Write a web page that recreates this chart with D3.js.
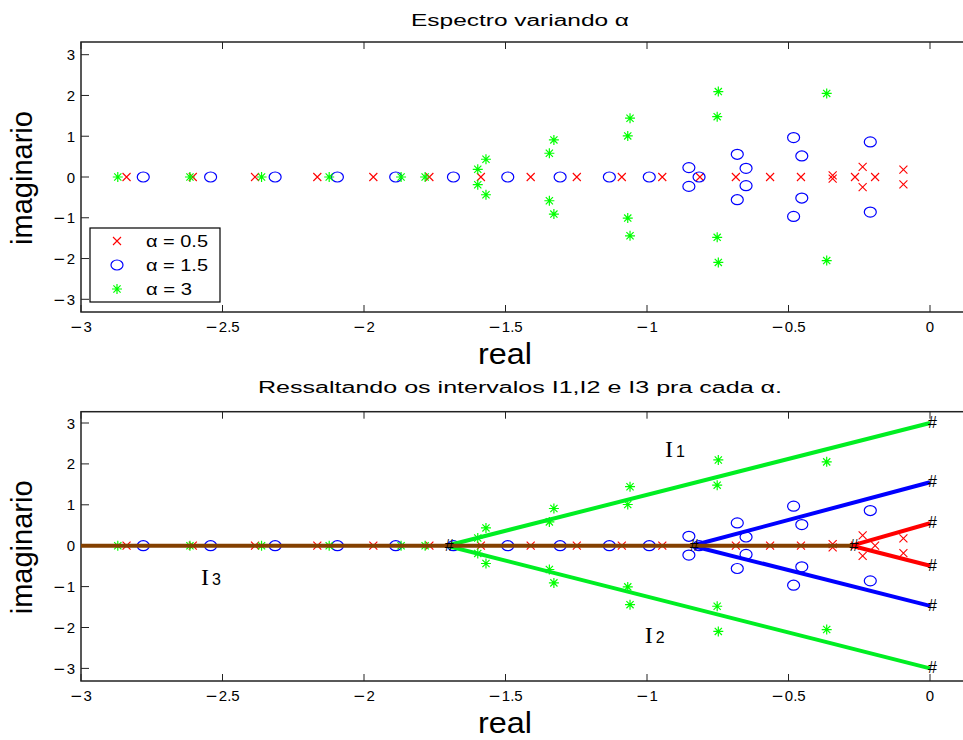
<!DOCTYPE html>
<html>
<head>
<meta charset="utf-8">
<script src="https://cdn.jsdelivr.net/npm/d3@7"></script>
<style>
  html, body { margin: 0; padding: 0; background: #fff; }
  svg { display: block; }
  text { font-family: "Liberation Sans", Arial, Helvetica, sans-serif; fill: #000; }
</style>
</head>
<body>
<svg id="chart" width="963" height="740"></svg>
<script>
// Eigenvalue spectra (real, imaginary parts) for three values of alpha
const seriesNames = ["α = 0.5", "α = 1.5", "α = 3"];
const seriesColors = ["#ff0000", "#0000ff", "#00ff00"];
const seriesMarkers = ["x", "o", "*"];

const re05 = [-2.839, -2.605, -2.385, -2.165, -1.967, -1.769, -1.587, -1.411, -1.248, -1.089,
              -0.946, -0.813, -0.686, -0.565, -0.456, -0.344, -0.344, -0.265, -0.238, -0.238,
              -0.194, -0.094, -0.094];
const im05 = [0, 0, 0, 0, 0, 0, 0, 0, 0, 0,
              0, 0, 0, 0, 0, 0.04, -0.04, 0, 0.25, -0.25,
              0, 0.18, -0.18];

const re15 = [-2.780, -2.542, -2.314, -2.094, -1.888, -1.684, -1.492, -1.307, -1.133, -0.992,
              -0.852, -0.852, -0.816, -0.681, -0.681, -0.650, -0.650, -0.482, -0.482, -0.453,
              -0.453, -0.211, -0.211];
const im15 = [0, 0, 0, 0, 0, 0, 0, 0, 0, 0,
              0.23, -0.23, 0, 0.557, -0.557, 0.213, -0.213, 0.966, -0.966, 0.516,
              -0.516, 0.86, -0.86];

const re3 = [-2.870, -2.615, -2.362, -2.123, -1.869, -1.784, -1.598, -1.598, -1.569, -1.569,
             -1.345, -1.345, -1.329, -1.329, -1.068, -1.068, -1.060, -1.060, -0.752, -0.752,
             -0.748, -0.748, -0.365, -0.365];
const im3 = [0, 0, 0, 0, 0, 0, 0.189, -0.189, 0.435, -0.435,
             0.582, -0.582, 0.909, -0.909, 1.007, -1.007, 1.442, -1.442, 1.48, -1.48,
             2.096, -2.096, 2.05, -2.05];

const seriesRe = [re05, re15, re3];
const seriesIm = [im05, im15, im3];

// Intervals I1/I2 (complex branches) and I3 (real segment)
const branchStart = [-0.277, -0.842, -1.708];      // real point where branches split
const branchUpper = [0.55, 1.55, 3.0];             // imaginary value at real = 0
const branchLower = [-0.49, -1.47, -3.0];
const branchColors = ["#ff0000", "#0000ff", "#00ee22"];
const realSegment = [-3, -0.277];
const realSegmentColor = "#834000";

const intervalNames = ["I", "I", "I"];
const intervalIdx = ["1", "2", "3"];
const intervalX = [-0.936, -1.008, -2.576];
const intervalY = [2.16, -2.39, -0.95];

// Axis ticks
const xTicks = [-3, -2.5, -2, -1.5, -1, -0.5, 0];
const yTicks = [-3, -2, -1, 0, 1, 2, 3];

const titles = ["Espectro variando α", "Ressaltando os intervalos I1,I2 e I3 pra cada α."];
const xLabel = "real";
const yLabel = "imaginario";

const svg = d3.select("#chart");

const x = d3.scaleLinear().domain([-3, 0]).range([81, 930]);
const boxLeft = 81, boxRight = 966;

const panels = [
  { top: 42, bottom: 312, titleY: 26, titleW: 218,
    y: d3.scaleLinear().domain([-3, 3]).range([299.3, 54.7]) },
  { top: 411.7, bottom: 681, titleY: 393, titleW: 524,
    y: d3.scaleLinear().domain([-3, 3]).range([668.4, 423]) }
];

// Tick label with a wide minus sign
function tickText(sel, v) {
  if (v < 0) {
    sel.append("tspan").attr("font-family", "DejaVu Sans, sans-serif").text("\u2212");
    sel.append("tspan").attr("dx", 1).text(String(Math.abs(v)));
  } else {
    sel.text(String(v));
  }
}

function drawMarker(g, kind, cx, cy, color) {
  if (kind === "x") {
    const s = 4;
    g.append("path")
      .attr("d", `M${cx - s},${cy - s}L${cx + s},${cy + s}M${cx - s},${cy + s}L${cx + s},${cy - s}`)
      .attr("stroke", color).attr("stroke-width", 1.1).attr("fill", "none");
  } else if (kind === "o") {
    g.append("ellipse")
      .attr("cx", cx).attr("cy", cy).attr("rx", 6).attr("ry", 5)
      .attr("stroke", color).attr("stroke-width", 1.2).attr("fill", "none");
  } else {
    const s = 5, d = 3.6;
    g.append("path")
      .attr("d", `M${cx - s},${cy}L${cx + s},${cy}M${cx},${cy - s}L${cx},${cy + s}` +
                 `M${cx - d},${cy - d}L${cx + d},${cy + d}M${cx - d},${cy + d}L${cx + d},${cy - d}`)
      .attr("stroke", color).attr("stroke-width", 1.2).attr("fill", "none");
  }
}

function drawAxes(p, idx) {
  const g = svg.append("g");
  const y = p.y;

  // Frame
  g.append("rect")
    .attr("x", boxLeft).attr("y", p.top)
    .attr("width", boxRight - boxLeft).attr("height", p.bottom - p.top)
    .attr("fill", "none").attr("stroke", "#222").attr("stroke-width", 1.5);

  // X ticks (inward, top and bottom) and labels
  xTicks.forEach(t => {
    const px = x(t);
    g.append("line").attr("x1", px).attr("x2", px).attr("y1", p.bottom).attr("y2", p.bottom - 7)
      .attr("stroke", "#222").attr("stroke-width", 1);
    g.append("line").attr("x1", px).attr("x2", px).attr("y1", p.top).attr("y2", p.top + 7)
      .attr("stroke", "#222").attr("stroke-width", 1);
    const tx = g.append("text").attr("x", px).attr("y", p.bottom + 20)
      .attr("text-anchor", "middle").attr("font-size", 15);
    tickText(tx, t);
  });

  // Y ticks and labels
  yTicks.forEach(t => {
    const py = y(t);
    g.append("line").attr("x1", boxLeft).attr("x2", boxLeft + 8).attr("y1", py).attr("y2", py)
      .attr("stroke", "#222").attr("stroke-width", 1);
    const ty = g.append("text").attr("x", 75).attr("y", py + 5.5)
      .attr("text-anchor", "end").attr("font-size", 15);
    tickText(ty, t);
  });

  // Title and axis labels
  g.append("text").attr("x", 520).attr("y", p.titleY)
    .attr("text-anchor", "middle").attr("font-size", 16)
    .attr("textLength", p.titleW).attr("lengthAdjust", "spacingAndGlyphs")
    .text(titles[idx]);
  g.append("text").attr("x", 505).attr("y", p.bottom + 52)
    .attr("text-anchor", "middle").attr("font-size", 29)
    .attr("textLength", 54).attr("lengthAdjust", "spacingAndGlyphs")
    .text(xLabel);
  const cy = (p.top + p.bottom) / 2 + 1;
  g.append("text").attr("transform", `translate(32,${cy}) rotate(-90)`)
    .attr("text-anchor", "middle").attr("font-size", 29).text(yLabel);

  return g;
}

function drawSeries(g, y) {
  seriesRe.forEach((re, s) => {
    const sg = g.append("g");
    re.forEach((r, i) => drawMarker(sg, seriesMarkers[s], x(r), y(seriesIm[s][i]), seriesColors[s]));
  });
}

// ---- Top panel: spectra ----
const g1 = drawAxes(panels[0], 0);
drawSeries(g1, panels[0].y);

// Legend
const legendW = [62, 62, 46];
const lg = g1.append("g");
lg.append("rect").attr("x", 90).attr("y", 228).attr("width", 130).attr("height", 74)
  .attr("fill", "#fff").attr("stroke", "#000").attr("stroke-width", 1.2);
seriesNames.forEach((name, i) => {
  const ly = 241 + i * 24;
  drawMarker(lg, seriesMarkers[i], 117, ly, seriesColors[i]);
  lg.append("text").attr("x", 146).attr("y", ly + 6).attr("font-size", 16)
    .attr("textLength", legendW[i]).attr("lengthAdjust", "spacingAndGlyphs").text(name);
});

// ---- Bottom panel: highlighted intervals ----
const p2 = panels[1];
const g2 = drawAxes(p2, 1);
drawSeries(g2, p2.y);

const line = d3.line().x(d => x(d[0])).y(d => p2.y(d[1]));

branchStart.forEach((s, i) => {
  [branchUpper[i], branchLower[i]].forEach(end => {
    g2.append("path").attr("d", line([[s, 0], [0, end]]))
      .attr("stroke", branchColors[i]).attr("stroke-width", 4).attr("fill", "none")
      .attr("stroke-linecap", "butt");
  });
});
g2.append("path").attr("d", line([[realSegment[0], 0], [realSegment[1], 0]]))
  .attr("stroke", realSegmentColor).attr("stroke-width", 4).attr("fill", "none");

// "#" markers at the branch points and the end of every branch
const hashPts = [];
branchStart.forEach((s, i) => {
  hashPts.push([s, 0], [0, branchUpper[i]], [0, branchLower[i]]);
});
hashPts.forEach(pt => {
  g2.append("text").attr("x", x(pt[0]) - 2).attr("y", p2.y(pt[1]) + 5)
    .attr("font-family", "Liberation Serif, serif").attr("font-size", 16).text("#");
});

// Interval labels
intervalNames.forEach((n, i) => {
  const t = g2.append("text").attr("x", x(intervalX[i])).attr("y", p2.y(intervalY[i]));
  t.append("tspan").attr("font-family", "Liberation Serif, serif").attr("font-size", 24).text(n);
  t.append("tspan").attr("dx", 3).attr("font-size", 16).text(intervalIdx[i]);
});
</script>
</body>
</html>
